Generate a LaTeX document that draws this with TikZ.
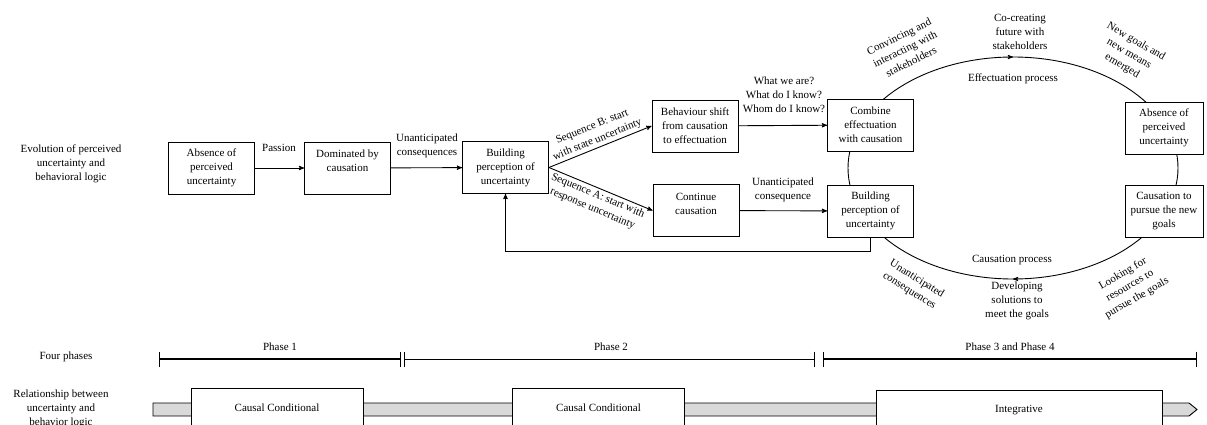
\documentclass[tikz,border=0pt]{standalone}
\usepackage{fontspec}
\setmainfont{Liberation Serif}
\usetikzlibrary{arrows,arrows.meta,decorations.markings}

\begin{document}
\begin{tikzpicture}[x=1pt,y=-1pt,>=stealth',line width=0.9pt,
  font=\fontsize{11}{14}\selectfont,
  stage node/.style={draw,fill=white,minimum width=86,minimum height=52,align=center,inner sep=1pt},
  side node/.style={stage node,minimum width=78},
  label node/.style={align=center,inner sep=0pt},
  logic node/.style={draw,fill=white,minimum width=172,minimum height=40,inner sep=0pt},
  phase bar/.style={{Bar[width=15pt,line width=1pt]}-{Bar[width=15pt,line width=1pt]}}]

  \useasboundingbox (0,0) rectangle (1207,425);

  \coordinate (cyc) at (1013,168);
  \draw[decoration={markings,mark=at position 0.25 with {\arrow{stealth'}},
    mark=at position 0.75 with {\arrow{stealth'}}},postaction={decorate}]
    (cyc) ellipse [x radius=165, y radius=111];

  \node[label node] (evol) at (71,164) {Evolution of perceived\\uncertainty and\\behavioral logic};
  \node[label node] (four) at (66,357) {Four phases};
  \node[label node] (rel) at (61,409) {Relationship between\\uncertainty and\\behavior logic};

  \node[stage node] (abs1) at (211.5,168) {Absence of\\perceived\\uncertainty};
  \node[stage node] (dom) at (347.5,168) {Dominated by\\causation\\\mbox{}};
  \node[stage node] (build1) at (505.5,167.5) {Building\\perception of\\uncertainty};
  \node[stage node] (shift) at (695,126) {Behaviour shift\\from causation\\to effectuation};
  \node[stage node] (cont) at (696,210.5) {Continue\\causation\\\mbox{}};
  \node[stage node] (comb) at (870.5,125) {Combine\\effectuation\\with causation};
  \node[stage node] (build2) at (870.5,211) {Building\\perception of\\uncertainty};
  \node[side node] (abs2) at (1164,128) {Absence of\\perceived\\uncertainty};
  \node[side node] (pursue) at (1164,211) {Causation to\\pursue the new\\goals};

  \path[->] (abs1) edge (dom)
    (dom) edge (build1)
    (build1.east) edge node[sloped,above,label node,inner sep=2pt] {Sequence B: start\\with state uncertainty} (shift.west)
    (build1.east) edge node[sloped,below,label node,inner sep=2pt] {Sequence A: start with\\response uncertainty} (cont.west)
    (shift) edge (comb)
    (cont) edge (build2);
  \draw[->] (build2.south) -- ++(0,14) -| (build1.south);

  \node[label node] (passion) at (279,148) {Passion};
  \node[label node] (unant1) at (427,146) {Unanticipated\\consequences};
  \node[label node] (whatwe) at (784,95) {What we are?\\What do I know?\\Whom do I know?};
  \node[label node] (unant2) at (783,190) {Unanticipated\\consequence};
  \node[label node,rotate=26] (convince) at (905,49) {Convincing and\\interacting with\\stakeholders};
  \node[label node] (cocreate) at (1020,32) {Co-creating\\future with\\stakeholders};
  \node[label node,rotate=-30] (newgoals) at (1129,54) {New goals and\\new means\\emerged};
  \node[label node] (effproc) at (1013,79) {Effectuation process};
  \node[label node] (causproc) at (1012,260) {Causation process};
  \node[label node] (develop) at (1017,301) {Developing\\solutions to\\meet the goals};
  \node[label node,rotate=-32] (unant3) at (913,285) {Unanticipated\\consequences};
  \node[label node,rotate=30] (looking) at (1130,286) {Looking for\\resources to\\pursue the goals};

  \coordinate (ph0) at (159,359);
  \coordinate (ph1) at (401,359);
  \coordinate (ph2) at (404,359);
  \coordinate (ph3) at (815,359);
  \coordinate (ph4) at (823,359);
  \coordinate (ph5) at (1197,359);
  \draw[phase bar,line width=1.6pt] (ph0) -- (ph1);
  \draw[phase bar] (ph2) -- (ph3);
  \draw[phase bar,line width=1.6pt] (ph4) -- (ph5);
  \node[label node] (phase1) at (280,347) {Phase 1};
  \node[label node] (phase2) at (611,347) {Phase 2};
  \node[label node] (phase34) at (1010,347) {Phase 3 and Phase 4};

  \draw[fill=gray!30] (153,403) -- (1189,403) -- (1197,409.5) -- (1189,416) -- (153,416) -- cycle;
  \node[logic node] (causal1) at (277,408) {Causal Conditional};
  \node[logic node] (causal2) at (598.5,408) {Causal Conditional};
  \node[logic node,minimum width=286] (integr) at (1019,410) {Integrative};

\end{tikzpicture}
\end{document}
